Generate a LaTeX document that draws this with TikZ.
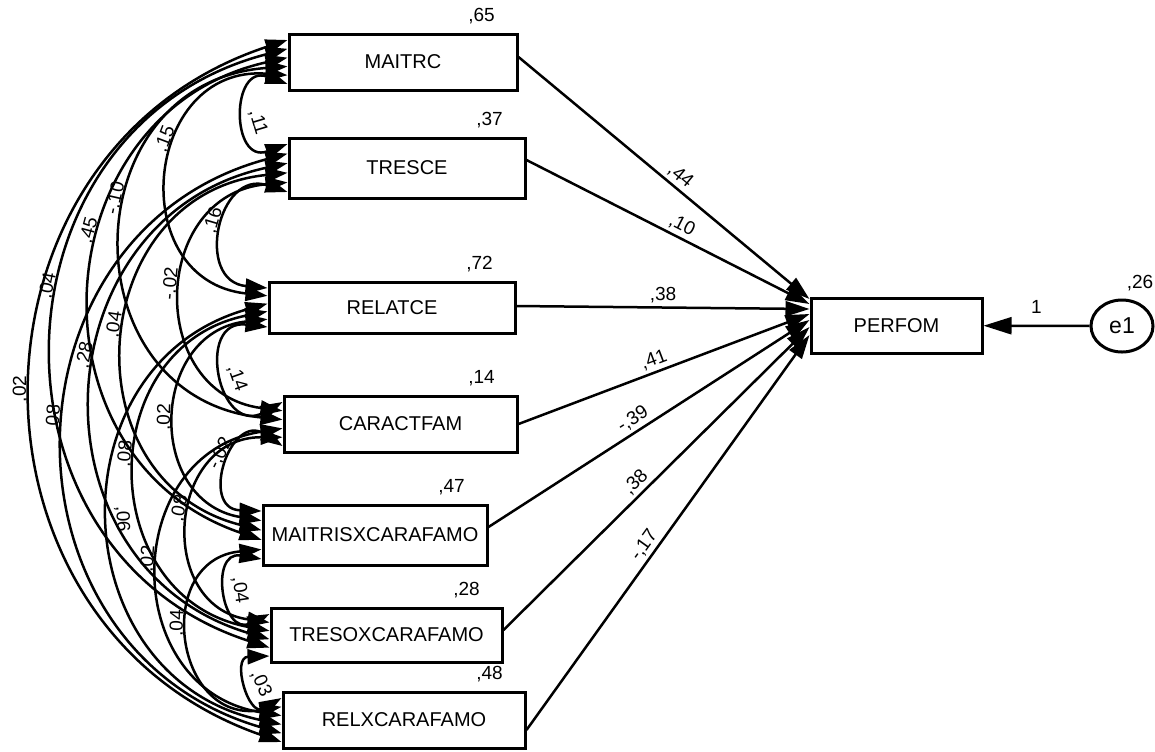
\documentclass[tikz,border=0pt]{standalone}
\usepackage{fontspec}
\setmainfont{Liberation Sans}
\usetikzlibrary{arrows.meta,shapes.geometric}
\begin{document}
\begin{tikzpicture}[x=0.5pt,y=0.5pt,
  var/.style={draw, line width=1.5pt, rectangle, inner sep=0pt,
    font=\fontsize{10}{12}\selectfont},
  err/.style={draw, line width=1.5pt, ellipse, inner sep=0pt,
    minimum width=31pt, minimum height=26pt, font=\fontsize{11.5}{13}\selectfont},
  reg/.style={line width=1.25pt, -{Triangle[length=12pt,width=7.5pt]}},
  regbig/.style={line width=1.25pt, -{Triangle[length=14pt,width=8.5pt]}},
  cov/.style={line width=1.25pt,
    {Triangle[length=11pt,width=7.5pt]}-{Triangle[length=11pt,width=7.5pt]}},
  coef/.style={font=\fontsize{9.5}{11}\selectfont, inner sep=1.5pt},
  ]
\useasboundingbox (0,0) rectangle (1155,-751);

% observed variables
\node[var, minimum width=114pt, minimum height=28pt]   (M)  at (403,-62)     {MAITRC};
\node[var, minimum width=118pt, minimum height=30pt]   (T)  at (407,-168)    {TRESCE};
\node[var, minimum width=123pt, minimum height=25.5pt] (R)  at (392,-307.5)  {RELATCE};
\node[var, minimum width=116.5pt, minimum height=28pt] (C)  at (400.5,-424)  {CARACTFAM};
\node[var, minimum width=112pt, minimum height=30pt]   (MX) at (375,-535)    {MAITRISXCARAFAMO};
\node[var, minimum width=115.5pt, minimum height=27pt] (TX) at (386.5,-635)  {TRESOXCARAFAMO};
\node[var, minimum width=121pt, minimum height=28pt]   (RX) at (404,-720)    {RELXCARAFAMO};
\node[var, minimum width=85.5pt, minimum height=27.5pt] (PE) at (896.5,-325.5) {PERFOM};
\node[err] (e1) at (1122,-326) {e1};

% variances / squared multiple correlations
\foreach \bx/\val in {M/{,65}, T/{,37}, R/{,72}, C/{,14}, MX/{,47}, TX/{,28}, RX/{,48}}
  \node[coef] at ([shift={(-37,16)}]\bx.north east) {\val};
\node[coef] at ([shift={(18,15)}]e1.north) {,26};

% regression paths
\draw[reg] ([shift={(0,5)}]M.east)   -- node[coef, sloped, above, pos=0.53] {,44}  ([shift={(0,26.5)}]PE.west);
\draw[reg] ([shift={(0,8)}]T.east)   -- node[coef, sloped, above, pos=0.53] {,10}  ([shift={(0,21.5)}]PE.west);
\draw[reg] ([shift={(0,1.5)}]R.east) -- node[coef, sloped, above, pos=0.5]  {,38}  ([shift={(0,16.5)}]PE.west);
\draw[reg] (C.east)                  -- node[coef, sloped, above, pos=0.48] {,41}  ([shift={(0,11.5)}]PE.west);
\draw[reg] ([shift={(0,8)}]MX.east)  -- node[coef, sloped, above, pos=0.47] {-,39} ([shift={(0,5.5)}]PE.west);
\draw[reg] ([shift={(0,5)}]TX.east)  -- node[coef, sloped, above, pos=0.46] {,38}  ([shift={(0,-1.5)}]PE.west);
\draw[reg] ([shift={(0,-10)}]RX.east) -- node[coef, sloped, above, pos=0.45] {-,17} ([shift={(0,-9.5)}]PE.west);

% residual
\draw[regbig] (e1) -- node[coef, above=4pt] {1} (PE);

% attachment points of the covariance arcs on the left sides
\foreach \bx/\pt/\off in {
  M/RX/22, M/TX/13.2, M/MX/4.4, M/C/-4.4, M/R/-13.2, M/T/-22,
  T/M/24, T/RX/14.4, T/TX/4.8, T/MX/-4.8, T/C/-14.4, T/R/-24,
  R/T/19.5, R/M/11.7, R/RX/3.9, R/TX/-3.9, R/MX/-11.7, R/C/-19.5,
  C/R/22, C/T/13.2, C/M/4.4, C/RX/-4.4, C/TX/-13.2, C/MX/-22,
  MX/C/24, MX/R/14.4, MX/T/4.8, MX/M/-4.8, MX/RX/-14.4, MX/TX/-24,
  TX/MX/21, TX/C/12.6, TX/R/4.2, TX/T/-4.2, TX/M/-12.6, TX/RX/-21,
  RX/TX/22, RX/MX/13.2, RX/C/4.4, RX/R/-4.4, RX/T/-13.2, RX/M/-22}
  \coordinate (\bx-\pt) at ([shift={(0,\off)}]\bx.west);

% covariances (drawn from the lower box to the upper one)
\foreach \ua/\lb/\ang/\loo/\ps/\lab in {
  M/T/110/2.59/0.4/{,11},
  M/R/89/1.67/0.6/{,15},
  M/C/85/1.57/0.58/{-,10},
  M/MX/74.4/1.34/0.59/{,45},
  M/TX/73.8/1.33/0.57/{,04},
  M/RX/71.3/1.29/0.5/{,02},
  T/R/96.6/1.92/0.53/{,16},
  T/C/83.8/1.54/0.53/{-,02},
  T/MX/80/1.45/0.53/{,04},
  T/TX/75.7/1.37/0.56/{,28},
  T/RX/74.4/1.34/0.53/{,08},
  R/C/107.9/2.46/0.45/{,14},
  R/MX/82.2/1.5/0.5/{,02},
  R/TX/79.2/1.43/0.54/{,08},
  R/RX/76.2/1.37/0.5/{,06},
  C/MX/106/2.35/0.55/{-,02},
  C/TX/86/1.59/0.55/{,08},
  C/RX/81/1.47/0.53/{,02},
  MX/TX/107.6/2.45/0.5/{,04},
  MX/RX/91.9/1.76/0.56/{,04},
  TX/RX/104/2.25/0.45/{,03}}
  \draw[cov] (\lb-\ua) to[bend left=\ang, looseness=\loo]
    node[coef, sloped, above, pos=\ps] {\lab} (\ua-\lb);
\end{tikzpicture}
\end{document}
